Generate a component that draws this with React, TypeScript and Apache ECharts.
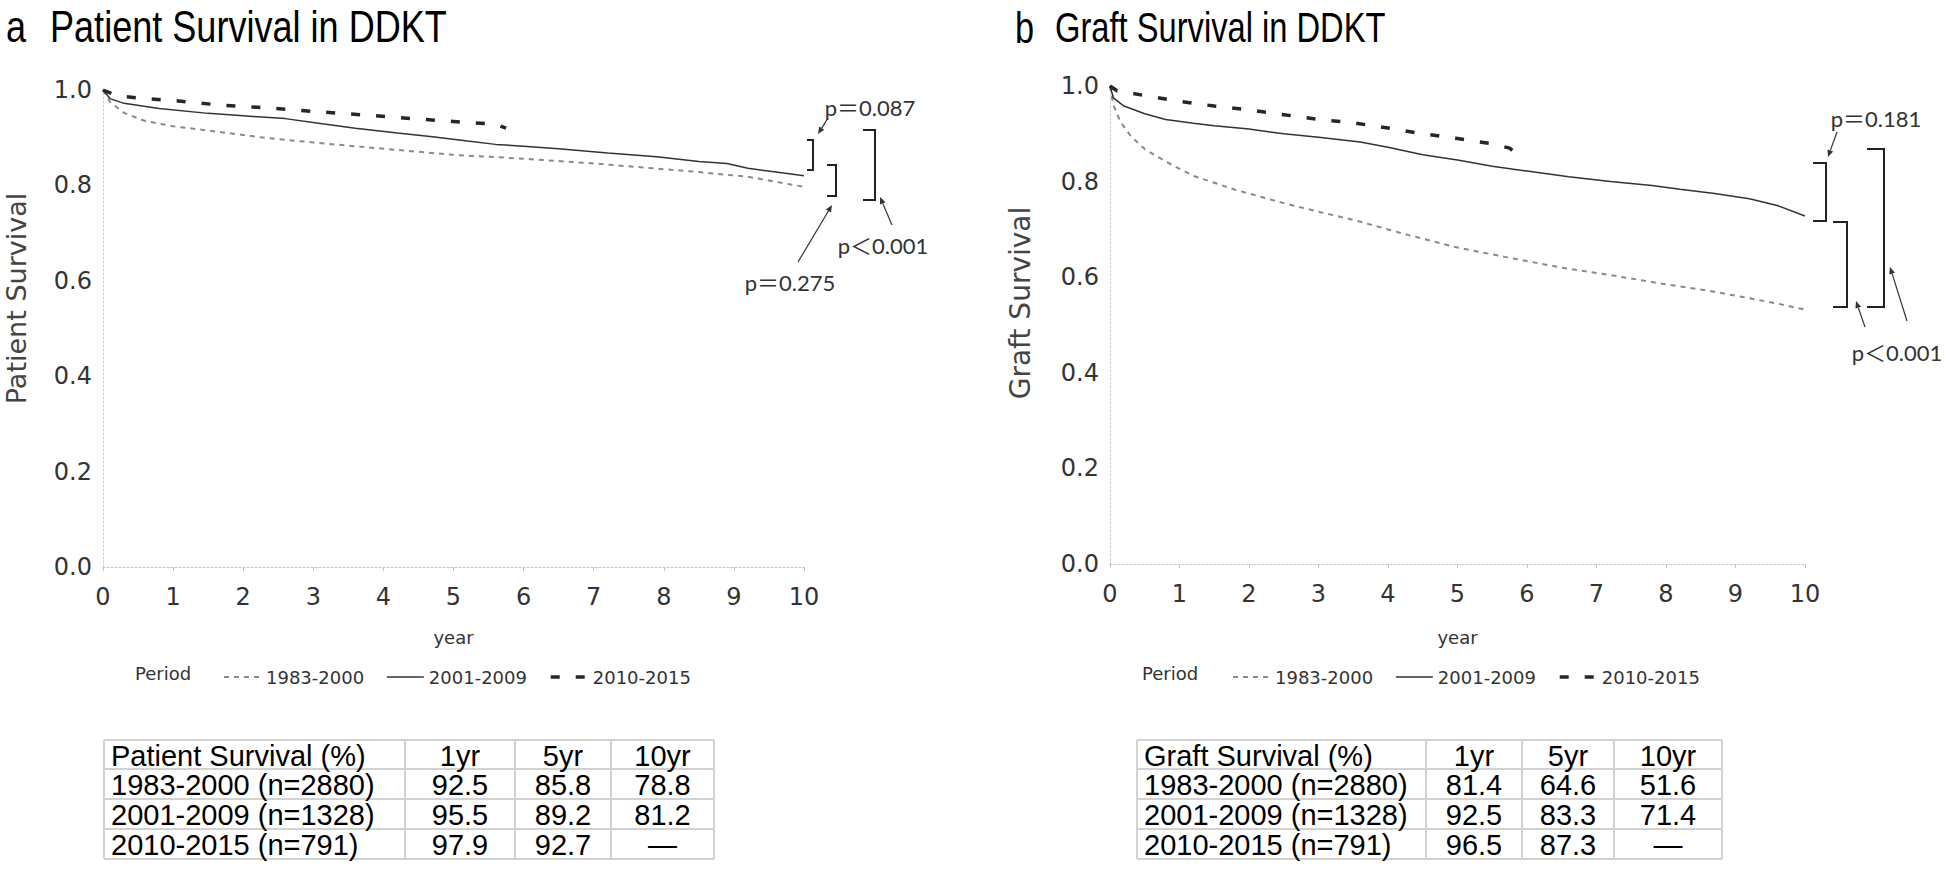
import React, { useEffect, useRef } from "react";
import * as echarts from "echarts";

// ---------- data ----------
const PERIODS = ["1983-2000", "2001-2009", "2010-2015"];
const YEAR_MIN = 0;
const YEAR_MAX = 10;
const YEAR_STEP = 1;
const SURV_MIN = 0;
const SURV_MAX = 1;
const SURV_STEP = 0.2;

// panel a: patient survival
const patientYears1983 = [0, 0.1, 0.3, 0.6, 1, 1.5, 2.3, 3, 3.6, 4.3, 5, 6, 7, 7.5, 8.5, 9.2, 10];
const patientSurv1983 = [1, 0.975, 0.952, 0.935, 0.924, 0.915, 0.9, 0.89, 0.882, 0.873, 0.864, 0.856, 0.846, 0.84, 0.828, 0.818, 0.797];
const patientYears2001 = [0, 0.1, 0.3, 0.8, 1.5, 2.0, 2.6, 3.1, 3.6, 4.2, 4.7, 5.2, 5.6, 6.0, 6.5, 7.2, 7.9, 8.5, 8.9, 9.2, 9.6, 10];
const patientSurv2001 = [1, 0.982, 0.972, 0.961, 0.951, 0.946, 0.94, 0.93, 0.92, 0.91, 0.902, 0.893, 0.886, 0.882, 0.877, 0.868, 0.86, 0.85, 0.846, 0.836, 0.828, 0.82];
const patientYears2010 = [0, 0.2, 0.6, 1.0, 1.7, 2.4, 3.0, 3.7, 4.4, 5.0, 5.6, 5.75];
const patientSurv2010 = [1, 0.988, 0.982, 0.978, 0.968, 0.962, 0.955, 0.948, 0.94, 0.934, 0.928, 0.92];

// panel b: graft survival
const graftYears1983 = [0, 0.05, 0.15, 0.3, 0.5, 0.8, 1.2, 1.8, 2.5, 3.0, 3.5, 4.3, 5.0, 5.7, 6.5, 7.3, 8.0, 8.6, 9.2, 9.6, 10];
const graftSurv1983 = [1, 0.96, 0.925, 0.895, 0.868, 0.842, 0.812, 0.783, 0.755, 0.737, 0.72, 0.688, 0.662, 0.642, 0.62, 0.602, 0.585, 0.572, 0.556, 0.545, 0.532];
const graftYears2001 = [0, 0.05, 0.2, 0.5, 0.8, 1.2, 1.5, 2.0, 2.5, 3.0, 3.6, 4.0, 4.5, 5.0, 5.5, 6.0, 6.6, 7.2, 7.8, 8.2, 8.7, 9.2, 9.6, 10];
const graftSurv2001 = [1, 0.975, 0.958, 0.942, 0.93, 0.922, 0.917, 0.91, 0.9, 0.893, 0.883, 0.872, 0.856, 0.845, 0.832, 0.822, 0.81, 0.8, 0.792, 0.784, 0.775, 0.764, 0.75, 0.728];
const graftYears2010 = [0, 0.1, 0.5, 1.0, 1.5, 2.0, 2.5, 3.0, 3.5, 4.0, 4.5, 5.0, 5.5, 5.75, 5.85];
const graftSurv2010 = [1, 0.99, 0.98, 0.968, 0.958, 0.95, 0.94, 0.93, 0.923, 0.912, 0.9, 0.89, 0.879, 0.87, 0.858];

// tables
const TABLE_COLS = ["1yr", "5yr", "10yr"];
const TABLE_ROWS = ["1983-2000 (n=2880)", "2001-2009 (n=1328)", "2010-2015 (n=791)"];
const patientTable = [
  ["92.5", "85.8", "78.8"],
  ["95.5", "89.2", "81.2"],
  ["97.9", "92.7", "\u2014"],
];
const graftTable = [
  ["81.4", "64.6", "51.6"],
  ["92.5", "83.3", "71.4"],
  ["96.5", "87.3", "\u2014"],
];

// p-values
const P_PATIENT = ["p\uFF1D0.087", "p\uFF1D0.275", "p\uFF1C0.001"];
const P_GRAFT = ["p\uFF1D0.181", "p\uFF1C0.001"];

// ---------- styles ----------
const LINE_STYLES: any[] = [
  { color: "#8a8a8a", width: 2, type: [5, 5] },
  { color: "#333333", width: 1.5, type: "solid" },
  { color: "#262626", width: 3.5, type: [9, 16] },
];
const TICK_FONT = "DejaVu Sans";
const TITLE_FONT = "Liberation Sans";
const NOTE_FONT = 'Lato, "Noto Sans CJK JP", sans-serif';

const pairs = (xs: number[], ys: number[]) => xs.map((x, i) => [x, ys[i]]);

function arrow(x1: number, y1: number, x2: number, y2: number): any[] {
  const dx = x2 - x1;
  const dy = y2 - y1;
  const len = Math.sqrt(dx * dx + dy * dy);
  const ux = dx / len;
  const uy = dy / len;
  const bx = x2 - ux * 7;
  const by = y2 - uy * 7;
  const nx = -uy * 3;
  const ny = ux * 3;
  return [
    { type: "line", shape: { x1, y1, x2: bx, y2: by }, style: { stroke: "#333", lineWidth: 1.2 }, silent: true },
    {
      type: "polygon",
      shape: { points: [[x2, y2], [bx + nx, by + ny], [bx - nx, by - ny]] },
      style: { fill: "#333" },
      silent: true,
    },
  ];
}

function bracket(x1: number, x2: number, y1: number, y2: number): any {
  return {
    type: "polyline",
    shape: { points: [[x1, y1], [x2, y1], [x2, y2], [x1, y2]] },
    style: { stroke: "#222", lineWidth: 2, fill: null },
    silent: true,
  };
}

function note(text: string, x: number, y: number): any {
  return {
    type: "text",
    x,
    y,
    silent: true,
    style: { text, fontFamily: NOTE_FONT, fontSize: 22, fill: "#333", align: "center", verticalAlign: "middle" },
  };
}

function table(colEdges: number[], rowEdges: number[], header: string, data: string[][]): any[] {
  const els: any[] = [];
  const stroke = { stroke: "#d2d2d2", lineWidth: 2 };
  rowEdges.forEach((y) =>
    els.push({ type: "line", silent: true, shape: { x1: colEdges[0], y1: y, x2: colEdges[colEdges.length - 1], y2: y }, style: stroke })
  );
  colEdges.forEach((x) =>
    els.push({ type: "line", silent: true, shape: { x1: x, y1: rowEdges[0], x2: x, y2: rowEdges[rowEdges.length - 1] }, style: stroke })
  );
  const txt = (text: string, x: number, y: number, align: string) => ({
    type: "text",
    x,
    y,
    silent: true,
    style: { text, fontFamily: TITLE_FONT, fontSize: 29, fill: "#000", align, verticalAlign: "middle" },
  });
  const cy = (r: number) => (rowEdges[r] + rowEdges[r + 1]) / 2 + 1;
  const cx = (c: number) => (colEdges[c] + colEdges[c + 1]) / 2;
  els.push(txt(header, colEdges[0] + 7, cy(0), "left"));
  TABLE_COLS.forEach((c, j) => els.push(txt(c, cx(j + 1), cy(0), "center")));
  TABLE_ROWS.forEach((r, i) => {
    els.push(txt(r, colEdges[0] + 7, cy(i + 1), "left"));
    data[i].forEach((v, j) => els.push(txt(v, cx(j + 1), cy(i + 1), "center")));
  });
  return els;
}

function title(text: string, x: number, y: number, size: number, sx: number): any {
  return {
    type: "text",
    x,
    y,
    scaleX: sx,
    silent: true,
    style: { text, fontFamily: TITLE_FONT, fontSize: size, fill: "#000", align: "left", verticalAlign: "middle" },
  };
}

function periodLabel(x: number, y: number): any {
  return {
    type: "text",
    x,
    y,
    silent: true,
    style: { text: "Period", fontFamily: TICK_FONT, fontSize: 18, fill: "#333", align: "left", verticalAlign: "middle" },
  };
}

function xAxis(gridIndex: number, nameGap: number): any {
  return {
    type: "value",
    gridIndex,
    min: YEAR_MIN,
    max: YEAR_MAX,
    interval: YEAR_STEP,
    name: "year",
    nameLocation: "middle",
    nameGap,
    nameTextStyle: { fontFamily: TICK_FONT, fontSize: 18, color: "#333" },
    axisLine: { show: true, lineStyle: { color: "#c4c4c4", width: 1, type: [2, 2] } },
    axisTick: { show: true, length: 4, lineStyle: { color: "#c4c4c4" } },
    axisLabel: { fontFamily: TICK_FONT, fontSize: 24, color: "#333", margin: 18 },
    splitLine: { show: false },
  };
}

function yAxis(gridIndex: number, name: string, nameGap: number, size: number, lift: number): any {
  return {
    type: "value",
    gridIndex,
    min: SURV_MIN,
    max: SURV_MAX,
    interval: SURV_STEP,
    name,
    nameLocation: "middle",
    nameGap,
    nameTextStyle: { fontFamily: TICK_FONT, fontSize: size, color: "#444", padding: [0, 0, 0, lift * 2] },
    axisLine: { show: true, lineStyle: { color: "#cfcfcf", width: 1, type: [2, 2] } },
    axisTick: { show: false },
    axisLabel: { fontFamily: TICK_FONT, fontSize: 24, color: "#333", margin: 11, formatter: (v: number) => v.toFixed(1) },
    splitLine: { show: false },
  };
}

function lineSeries(name: string, idx: number, axis: number, xs: number[], ys: number[]): any {
  return {
    type: "line",
    name,
    xAxisIndex: axis,
    yAxisIndex: axis,
    data: pairs(xs, ys),
    symbol: "none",
    silent: true,
    lineStyle: LINE_STYLES[idx],
    itemStyle: { color: LINE_STYLES[idx].color },
  };
}

function legend(left: number): any {
  return {
    data: PERIODS.map((name, i) => ({
      name,
      lineStyle: { color: LINE_STYLES[i].color, width: LINE_STYLES[i].width, type: LINE_STYLES[i].type },
    })),
    left,
    top: 663,
    itemWidth: 37,
    itemHeight: 12,
    itemGap: 22,
    selectedMode: false,
    itemStyle: { opacity: 0 },
    textStyle: { fontFamily: TICK_FONT, fontSize: 18, color: "#333" },
  };
}

export default function App() {
  const ref = useRef<HTMLDivElement>(null);

  useEffect(() => {
    if (!ref.current) return;
    const chart = echarts.init(ref.current, undefined, { renderer: "svg" });

    const graphics: any[] = [
      title("a", 6, 27, 44, 0.82),
      title("Patient Survival in DDKT", 50, 27, 44, 0.82),
      title("b", 1015, 27, 44, 0.78),
      title("Graft Survival in DDKT", 1055, 27, 43, 0.76),
      periodLabel(135, 673),
      periodLabel(1142, 673),
      ...table([104, 405, 515, 611, 714], [740, 769, 799, 829, 859], "Patient Survival (%)", patientTable),
      ...table([1137, 1426, 1522, 1614, 1722], [740, 769, 799, 829, 859], "Graft Survival (%)", graftTable),
      // panel a annotations
      note(P_PATIENT[0], 870, 107),
      ...arrow(828, 118, 818, 134),
      bracket(807, 813, 140, 170),
      bracket(827, 836, 165, 196),
      bracket(863, 875, 130, 200),
      note(P_PATIENT[1], 790, 282),
      ...arrow(798, 262, 832, 205),
      note(P_PATIENT[2], 883, 245),
      ...arrow(892, 225, 880, 197),
      // panel b annotations
      note(P_GRAFT[0], 1876, 118),
      ...arrow(1837, 132, 1828, 157),
      bracket(1813, 1826, 163, 221),
      bracket(1833, 1847, 222, 307),
      bracket(1867, 1884, 149, 307),
      note(P_GRAFT[1], 1897, 352),
      ...arrow(1865, 327, 1856, 301),
      ...arrow(1907, 321, 1890, 267),
    ];

    chart.setOption({
      animation: false,
      backgroundColor: "#ffffff",
      textStyle: { fontFamily: TICK_FONT },
      grid: [
        { left: 103, top: 90, width: 701, height: 477 },
        { left: 1110, top: 86, width: 695, height: 478 },
      ],
      xAxis: [xAxis(0, 61), xAxis(1, 64)],
      yAxis: [yAxis(0, "Patient Survival", 73, 27, 30), yAxis(1, "Graft Survival", 76, 28, 22)],
      legend: [legend(218), legend(1227)],
      series: [
        lineSeries(PERIODS[0], 0, 0, patientYears1983, patientSurv1983),
        lineSeries(PERIODS[1], 1, 0, patientYears2001, patientSurv2001),
        lineSeries(PERIODS[2], 2, 0, patientYears2010, patientSurv2010),
        lineSeries(PERIODS[0], 0, 1, graftYears1983, graftSurv1983),
        lineSeries(PERIODS[1], 1, 1, graftYears2001, graftSurv2001),
        lineSeries(PERIODS[2], 2, 1, graftYears2010, graftSurv2010),
      ],
      graphic: graphics,
    });

    return () => chart.dispose();
  }, []);

  return (
    <div
      ref={ref}
      style={{ position: "fixed", left: 0, top: 0, width: 1946, height: 890, background: "#fff" }}
    />
  );
}
